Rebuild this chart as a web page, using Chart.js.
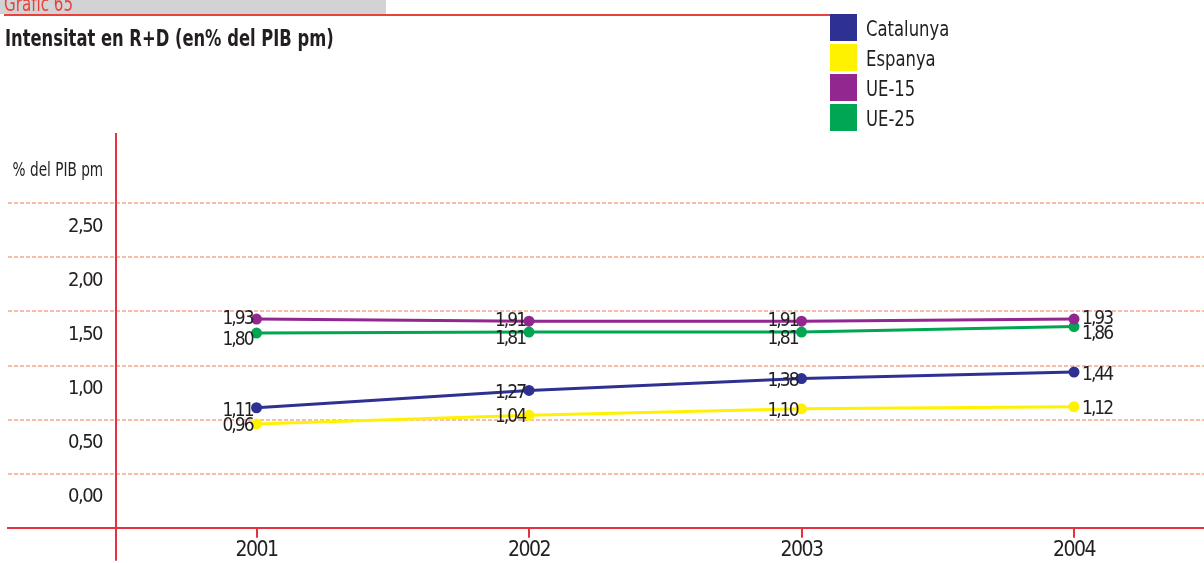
<!DOCTYPE html>
<html lang="ca">
<head>
<meta charset="utf-8">
<title>Gràfic 65</title>
<script src="https://cdn.jsdelivr.net/npm/chart.js@4.4.1/dist/chart.umd.min.js"></script>
<style>
  html, body { margin: 0; padding: 0; background: #fff; }
  body {
    width: 1204px; height: 563px; position: relative; overflow: hidden;
    font-family: "DejaVu Sans Condensed", "Liberation Sans Narrow", sans-serif;
    color: #231f20;
  }
  #chart { position: absolute; left: 0; top: 0; }
  .abs { position: absolute; white-space: nowrap; line-height: 1; }
  #tab { left: 0; top: 0; width: 386px; height: 14px; background: #d1d3d4; }
  #num { left: 4px; top: -6px; font-size: 21px; color: #e8423a; transform: scaleX(0.8); transform-origin: left top; }
  #rule { left: 4px; top: 14px; width: 826px; height: 2px; background: #e8423a; }
  #title { left: 5px; top: 27px; font-size: 23px; font-weight: bold; transform: scaleX(0.79); transform-origin: left top; }
  #unit { right: 1101px; top: 159px; font-size: 20px; transform: scaleX(0.76); transform-origin: right top; }
  #legend { position: absolute; left: 830px; top: 14px; }
  .item { height: 30px; line-height: 30px; font-size: 21px; position: relative; white-space: nowrap; }
  .item i { position: absolute; left: 0; top: 0; width: 27px; height: 27px; }
  .item span { position: absolute; left: 36px; top: 0; transform: scaleX(0.87); transform-origin: left top; }
</style>
</head>
<body>
<canvas id="chart" width="1204" height="563"></canvas>
<div class="abs" id="tab"></div>
<div class="abs" id="num">Gràfic 65</div>
<div class="abs" id="rule"></div>
<div class="abs" id="title">Intensitat en R+D (en% del PIB pm)</div>
<div class="abs" id="unit">% del PIB pm</div>
<div id="legend"></div>
<script>
// Intensitat en R+D, % del PIB pm
const YEARS = [2001, 2002, 2003, 2004]
const CATALUNYA = [1.11, 1.27, 1.38, 1.44]
const ESPANYA = [0.96, 1.04, 1.10, 1.12]
const UE15 = [1.93, 1.91, 1.91, 1.93]
const UE25 = [1.80, 1.81, 1.81, 1.86]

const Y_TICKS = [0, 0.5, 1, 1.5, 2, 2.5, 3]
const Y_TICK_LABELS = ['0,00', '0,50', '1,00', '1,50', '2,00', '2,50', '']

const FONT = '"DejaVu Sans Condensed", "Liberation Sans Narrow", sans-serif'
const TEXT = '#231f20'
const RED = '#e5323f'
const GRID = '#f8bca8'

const SERIES = [
  { label: 'Catalunya', values: CATALUNYA, color: '#2e3192' },
  { label: 'Espanya', values: ESPANYA, color: '#fff200' },
  { label: 'UE-15', values: UE15, color: '#92278f' },
  { label: 'UE-25', values: UE25, color: '#00a651' },
]

// axis ranges, chosen so the plot sits like the original
const X_MIN = 2000.088
const X_MAX = 2004.477
const Y_MAX = 3.65
const Y_LINE_AT = 2000.484

// value labels: last year goes to the right, UE-25 a bit lower so it does not touch UE-15
const LABEL_RIGHT_FROM = 2004
const LABEL_DY = { 'Catalunya': 3, 'Espanya': 2, 'UE-15': 0, 'UE-25': 7 }

// ── legend (html) ─────────────────────────────────────────────
document.getElementById('legend').innerHTML = SERIES
  .map(s => `<div class="item"><i style="background:${s.color}"></i><span>${s.label}</span></div>`)
  .join('')

// ── plugins ───────────────────────────────────────────────────
// the original face is a tight condensed one, so squeeze canvas text a little
const tightText = {
  id: 'tightText',
  beforeDraw(chart) { chart.ctx.letterSpacing = '-1.5px' }
}

const yAxisLine = {
  id: 'yAxisLine',
  afterDraw(chart) {
    const { ctx, chartArea, scales } = chart
    const px = Math.round(scales.x.getPixelForValue(Y_LINE_AT))
    ctx.save()
    ctx.strokeStyle = RED
    ctx.lineWidth = 2
    ctx.beginPath()
    ctx.moveTo(px, chartArea.top)
    ctx.lineTo(px, chartArea.bottom + 33)
    ctx.stroke()
    ctx.restore()
  }
}

const valueLabels = {
  id: 'valueLabels',
  afterDatasetsDraw(chart) {
    const ctx = chart.ctx
    ctx.save()
    ctx.font = `19px ${FONT}`
    ctx.letterSpacing = '-2px'
    ctx.fillStyle = TEXT
    ctx.textBaseline = 'middle'
    chart.data.datasets.forEach((ds, di) => {
      chart.getDatasetMeta(di).data.forEach((pt, i) => {
        const right = ds.data[i].x >= LABEL_RIGHT_FROM
        ctx.textAlign = right ? 'left' : 'right'
        const txt = ds.data[i].y.toFixed(2).replace('.', ',')
        ctx.fillText(txt, pt.x + (right ? 8 : -4), pt.y + (LABEL_DY[ds.label] || 0))
      })
    })
    ctx.restore()
  }
}

// ── chart ─────────────────────────────────────────────────────
new Chart(document.getElementById('chart'), {
  type: 'line',
  data: {
    datasets: SERIES.map(s => ({
      label: s.label,
      data: YEARS.map((yr, i) => ({ x: yr, y: s.values[i] })),
      borderColor: s.color,
      backgroundColor: s.color,
      borderWidth: 3,
      pointRadius: 4,
      pointHoverRadius: 4,
      tension: 0,
    }))
  },
  options: {
    responsive: false,
    animation: false,
    events: [],
    layout: { autoPadding: false, padding: { left: 8, top: 133, right: 0, bottom: 0 } },
    plugins: { legend: { display: false }, tooltip: { enabled: false } },
    scales: {
      x: {
        type: 'linear',
        min: X_MIN,
        max: X_MAX,
        afterBuildTicks: s => { s.ticks = YEARS.map(v => ({ value: v })) },
        afterFit: s => { s.paddingLeft = 0; s.paddingRight = 0 },
        grid: { drawOnChartArea: false, drawTicks: true, tickLength: 10, color: RED, tickColor: RED, lineWidth: 2 },
        border: { display: true, color: RED, width: 2, z: 1 },
        ticks: {
          padding: 0, color: TEXT, font: { family: FONT, size: 21 },
          maxRotation: 0, autoSkip: false, callback: v => String(v),
        },
      },
      y: {
        min: 0,
        max: Y_MAX,
        afterBuildTicks: s => { s.ticks = Y_TICKS.map(v => ({ value: v })) },
        // labels sit inside the plot, so the axis takes no room
        afterFit: s => { s.width = 0; s.paddingTop = 0; s.paddingBottom = 0 },
        grid: { drawTicks: false, lineWidth: 2, color: GRID },
        border: { display: false, dash: [4, 2] },
        ticks: {
          mirror: true, padding: 60, labelOffset: -31, color: TEXT,
          font: { family: FONT, size: 20 }, autoSkip: false,
          callback: (v, i) => Y_TICK_LABELS[i],
        },
      },
    },
  },
  plugins: [tightText, yAxisLine, valueLabels],
})
</script>
</body>
</html>
